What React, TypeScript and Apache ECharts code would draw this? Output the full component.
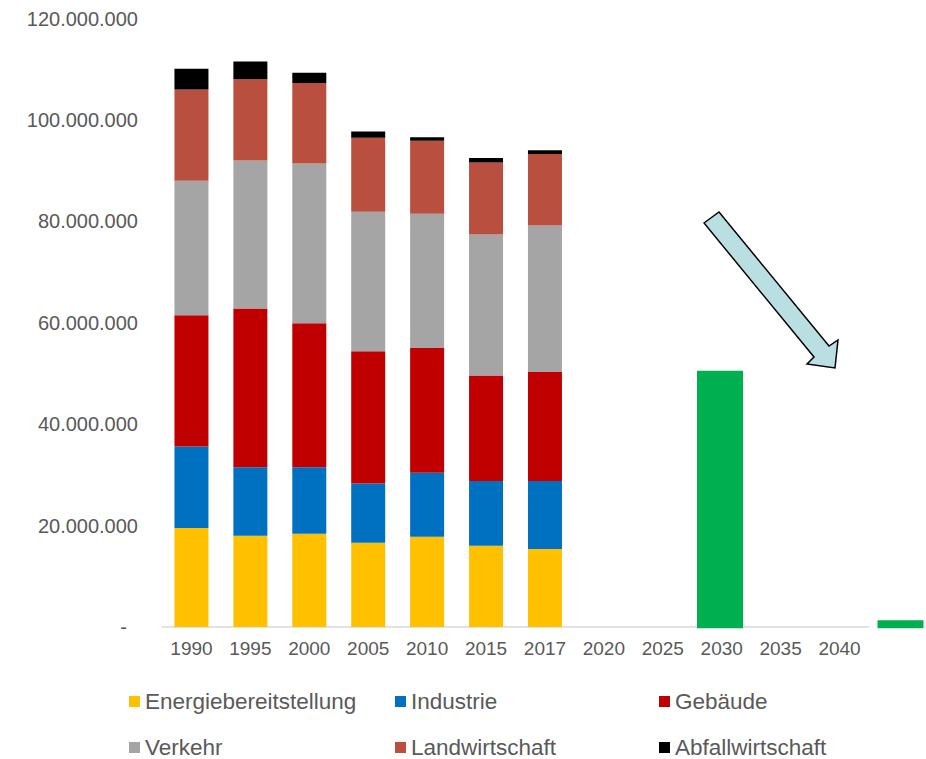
import React, { useEffect, useRef } from "react";
import * as echarts from "echarts";

const years = ["1990", "1995", "2000", "2005", "2010", "2015", "2017", "2020", "2025", "2030", "2035", "2040"];
const targetSlots = ["1990", "1995", "2000", "2005", "2010", "2015", "2017", "2020", "2025", "2030", "2035", "2040", ""];

const energie = [19500000, 18000000, 18400000, 16600000, 17800000, 16000000, 15400000, null, null, null, null, null];
const industrie = [16100000, 13500000, 13100000, 11700000, 12600000, 12800000, 13400000, null, null, null, null, null];
const gebaeude = [25900000, 31300000, 28400000, 26100000, 24600000, 20800000, 21500000, null, null, null, null, null];
const verkehr = [26500000, 29200000, 31500000, 27500000, 26500000, 27800000, 28900000, null, null, null, null, null];
const landwirtschaft = [18000000, 16000000, 15900000, 14600000, 14400000, 14200000, 14100000, null, null, null, null, null];
const abfall = [4100000, 3500000, 2000000, 1200000, 700000, 900000, 700000, null, null, null, null, null];
const ziel = [null, null, null, null, null, null, null, null, null, 50800000, null, null, 1600000];

const yTicks = [0, 20000000, 40000000, 60000000, 80000000, 100000000, 120000000];

const FONT = "'Liberation Sans', Arial, sans-serif";
const TXT = "#595959";

const fmt = (v: number) => String(Math.round(v)).replace(/\B(?=(\d{3})+(?!\d))/g, ".");

export default function App() {
  const ref = useRef<HTMLDivElement>(null);
  useEffect(() => {
    if (!ref.current) return;
    const chart = echarts.init(ref.current, null, { renderer: "svg" });
    const stackSeries = [
      { name: "Energiebereitstellung", data: energie, color: "#FFC000" },
      { name: "Industrie", data: industrie, color: "#0070C0" },
      { name: "Gebäude", data: gebaeude, color: "#C00000" },
      { name: "Verkehr", data: verkehr, color: "#A5A5A5" },
      { name: "Landwirtschaft", data: landwirtschaft, color: "#B9503F" },
      { name: "Abfallwirtschaft", data: abfall, color: "#000000" },
    ];
    const legendPos: Record<string, [number, number]> = {
      Energiebereitstellung: [129, 690],
      Industrie: [395, 690],
      "Gebäude": [659, 690],
      Verkehr: [129, 736],
      Landwirtschaft: [395, 736],
      Abfallwirtschaft: [659, 736],
    };
    const legends = stackSeries.map((s) => ({
      data: [s.name],
      left: legendPos[s.name][0],
      top: legendPos[s.name][1],
      padding: 0,
      icon: "rect",
      itemWidth: 11,
      itemHeight: 11,
      textStyle: { fontFamily: FONT, fontSize: 22.5, color: TXT },
    }));
    chart.setOption({
      animation: false,
      textStyle: { fontFamily: FONT },
      legend: legends,
      grid: [
        { left: 162, top: 18.5, width: 707, height: 608.5 },
        { left: 178.5, top: 19.8, width: 722, height: 608.5 },
      ],
      xAxis: [
        {
          type: "category",
          gridIndex: 0,
          data: years,
          axisLine: { lineStyle: { color: "#D9D9D9", width: 1.5 } },
          axisTick: { show: false },
          axisLabel: { fontFamily: FONT, fontSize: 19, color: TXT, margin: 12 },
        },
        {
          type: "category",
          gridIndex: 1,
          data: targetSlots,
          boundaryGap: false,
          show: false,
        },
      ],
      yAxis: [
        {
          type: "value",
          gridIndex: 0,
          min: yTicks[0],
          max: yTicks[yTicks.length - 1],
          interval: yTicks[1] - yTicks[0],
          axisLine: { show: false },
          axisTick: { show: false },
          splitLine: { show: false },
          axisLabel: {
            fontFamily: FONT,
            fontSize: 20,
            color: TXT,
            margin: 24,
            formatter: (v: number) => (v === 0 ? "{d|-}" : fmt(v)),
            rich: { d: { fontFamily: FONT, fontSize: 20, color: TXT, padding: [0, 11, 0, 0] } },
          },
        },
        {
          type: "value",
          gridIndex: 1,
          min: yTicks[0],
          max: yTicks[yTicks.length - 1],
          show: false,
        },
      ],
      series: [
        ...stackSeries.map((s) => ({
          name: s.name,
          type: "bar",
          stack: "total",
          xAxisIndex: 0,
          yAxisIndex: 0,
          barWidth: 34,
          data: s.data,
          itemStyle: { color: s.color },
          emphasis: { disabled: true },
        })),
        {
          name: "Ziel",
          type: "bar",
          xAxisIndex: 1,
          yAxisIndex: 1,
          barWidth: 46,
          clip: false,
          data: ziel,
          itemStyle: { color: "#00B050" },
          emphasis: { disabled: true },
        },
      ],
      graphic: [
        {
          type: "polygon",
          shape: {
            points: [
              [704, 223],
              [719, 212],
              [829, 346],
              [838, 340],
              [835, 368],
              [807, 364],
              [814, 357],
            ],
          },
          style: { fill: "#B9DFE3", stroke: "#000", lineWidth: 1.5 },
          z: 100,
        },
      ],
    });
    return () => chart.dispose();
  }, []);
  return <div ref={ref} style={{ position: "absolute", left: 0, top: 0, width: 926, height: 759 }} />;
}
